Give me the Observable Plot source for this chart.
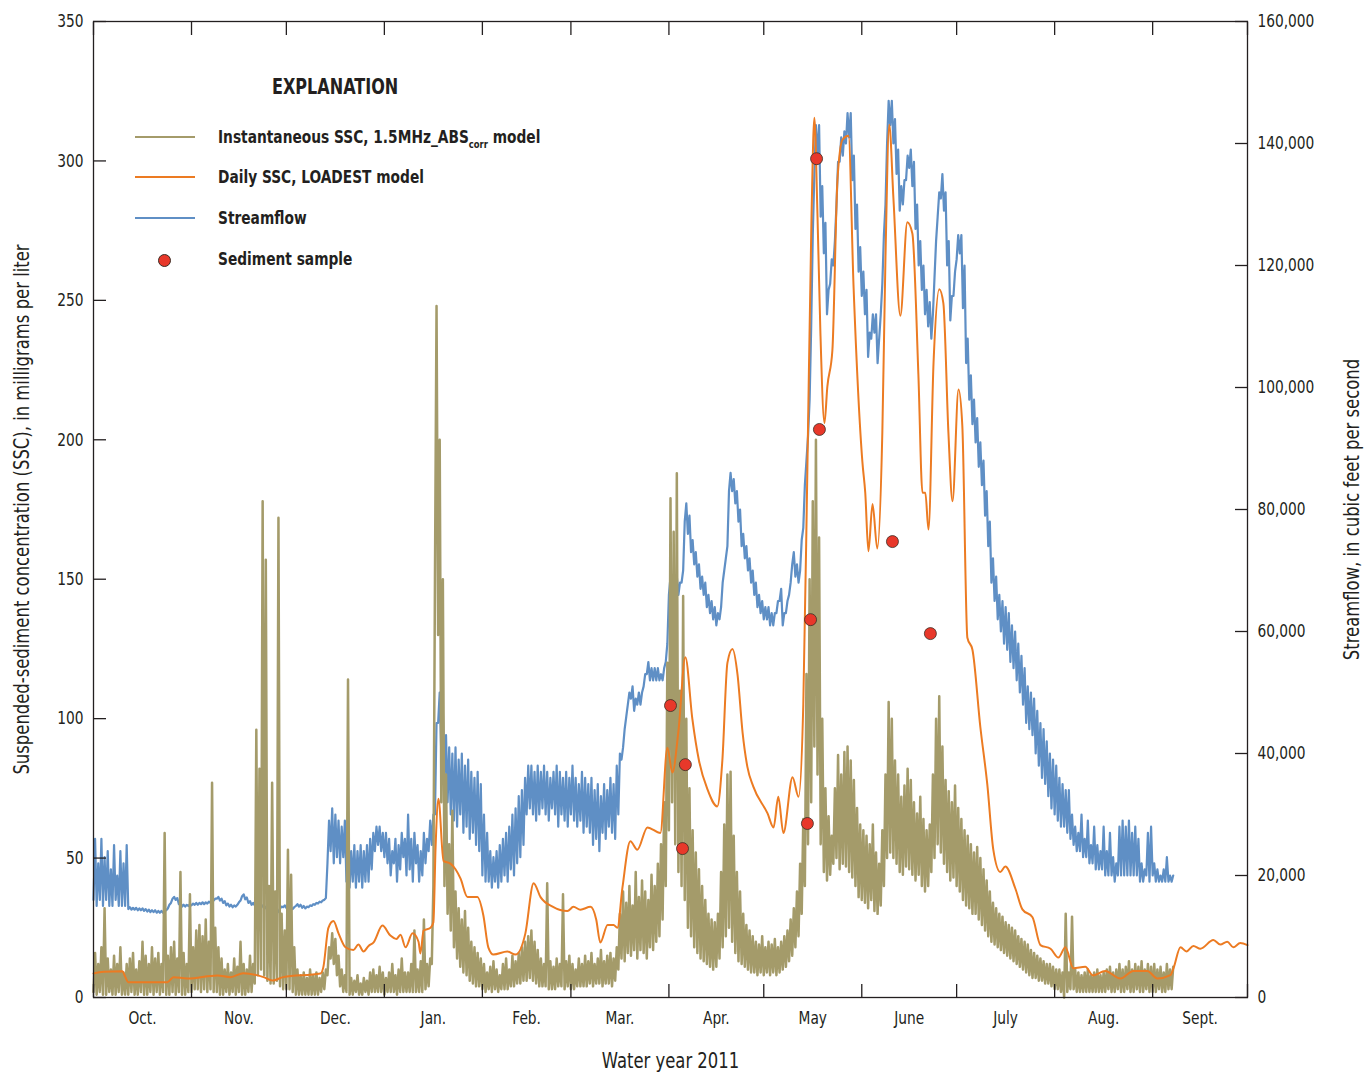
<!DOCTYPE html>
<html>
<head>
<meta charset="utf-8">
<script src="https://cdn.jsdelivr.net/npm/d3@7"></script>
<script src="https://cdn.jsdelivr.net/npm/@observablehq/plot@0.6"></script>
<style>
  body { margin: 0; background: #fff; }
  #wrap { position: relative; width: 1364px; height: 1072px; color: #231f20;
          font-family: "Liberation Sans Narrow", "Arial Narrow", "DejaVu Sans Condensed", sans-serif; }
  .lg { position: absolute; line-height: 1; transform: translateY(-50%) scaleX(0.85); transform-origin: 0 50%; white-space: nowrap; font-weight: bold; }
  .sw { position: absolute; height: 0; }
  .dotk { position: absolute; border-radius: 50%; }
  sub { font-size: 11px; vertical-align: -5px; line-height: 0; }
</style>
</head>
<body>
<div id="wrap"></div>
<script>
// ---------- DATA (water year 2011; day 0 = 1 Oct 2010) ----------
const monthLabels = ["Oct.", "Nov.", "Dec.", "Jan.", "Feb.", "Mar.", "Apr.", "May", "June", "July", "Aug.", "Sept."];
const sscTicks = [0, 50, 100, 150, 200, 250, 300, 350];
const flowTicks = [0, 20000, 40000, 60000, 80000, 100000, 120000, 140000, 160000];

// Instantaneous SSC (1.5MHz_ABScorr model), daily low / high envelope, mg/L, days 0..341
const instLow = [
  2,1,2,1,1,2,1,1,2,1,1,1,2,1,1,2,1,1,2,1,2,1,2,1,1,2,1,2,1,1,2,
  2,3,3,2,3,2,3,2,2,1,1,2,1,2,1,2,1,1,2,2,5,8,10,8,6,5,5,6,4,3,3,
  3,2,1,1,1,1,1,1,1,1,2,3,8,14,12,8,4,2,2,1,1,2,1,1,2,1,2,2,2,2,
  1,2,2,2,1,2,2,2,2,2,2,2,2,3,4,12,150,130,70,40,30,24,18,14,11,9,8,6,5,4,4,
  3,2,3,2,3,2,3,3,3,4,4,5,5,6,6,7,6,5,4,4,4,3,3,3,4,4,3,4,
  3,3,4,4,4,4,5,4,5,5,4,5,5,4,6,10,14,13,16,15,17,14,17,16,14,18,17,20,22,28,40,
  60,70,55,45,40,35,25,22,18,16,14,13,12,11,10,11,14,18,22,25,20,16,13,12,11,10,9,9,8,9,8,
  9,8,9,8,9,10,11,13,15,18,22,30,40,55,70,90,80,55,45,42,44,48,50,46,48,47,45,43,40,36,
  35,34,32,35,31,30,33,40,50,52,50,48,45,44,47,46,44,42,44,40,38,40,45,50,55,52,48,45,42,43,
  40,38,35,33,32,30,30,28,26,24,22,20,19,18,17,16,15,14,13,12,11,10,9,8,7,7,6,6,5,5,4,
  3,3,2,0,2,3,3,2,2,2,2,2,2,2,2,2,2,3,2,2,3,2,2,3,2,2,3,2,2,3,2,2,2,3,2,2,3,3
];
const instHigh = [
  16,12,18,32,14,10,15,12,18,9,12,14,16,10,13,20,15,12,18,14,16,12,59,15,18,20,14,45,16,12,37,
  18,24,26,22,28,20,77,25,18,14,10,12,9,14,11,20,12,10,15,12,96,82,178,157,40,77,38,172,30,24,53,
  44,18,10,8,9,7,10,8,9,7,9,10,18,23,21,15,10,8,114,7,6,8,5,7,6,9,10,8,11,9,
  7,9,12,8,10,14,9,9,12,24,10,13,28,12,14,40,248,200,150,80,55,67,38,32,28,31,25,20,18,16,14,
  12,9,11,13,10,8,12,14,10,15,13,16,18,20,22,24,20,17,14,12,41,13,11,14,12,37,13,15,
  12,10,14,12,15,13,16,12,14,17,13,15,16,14,18,30,38,34,40,33,45,36,42,38,35,44,40,48,55,70,120,
  179,167,188,110,144,100,75,60,52,46,40,35,30,28,27,30,45,62,80,81,58,45,38,30,26,24,22,20,19,22,18,
  20,19,21,18,20,22,24,28,32,38,48,64,116,150,178,200,165,100,75,65,58,75,87,80,88,90,85,78,68,62,
  60,58,55,62,52,48,60,80,106,100,85,80,72,76,82,78,70,66,72,64,60,62,80,100,108,90,78,74,70,76,
  68,64,60,58,55,52,54,50,46,42,38,34,32,30,29,27,26,25,24,22,21,20,19,17,16,15,14,13,12,12,11,
  10,10,9,30,9,29,10,9,8,9,10,8,9,10,8,9,10,11,9,10,12,10,11,13,10,12,11,13,10,12,11,12,10,11,9,12,10,11
];

// Streamflow, daily low / high envelope, thousand cubic feet per second, days 0..341
const flowLowK = [
  16,15,16,15,16,15,15,16,15,15,15,
  14.5,14.4,14.4,14.3,14.3,14.2,14.1,14.0,14.0,13.9,13.9,13.9,14.3,15.2,16.2,16.0,15.3,14.9,14.9,15.0,
  15.1,15.2,15.2,15.3,15.3,15.4,15.5,15.9,16.2,15.9,15.5,15.1,14.9,14.8,14.9,15.6,16.6,16.1,15.5,15.2,
  15.1,15.0,14.8,14.6,14.2,13.6,13.2,13.8,14.6,14.8,14.7,14.4,14.5,15.0,14.9,14.7,14.6,14.8,15.0,15.2,15.4,15.6,16.0,
  22,24,22,23,22,23,19,18,19,18,19,18,19,19,21,24,25,24,23,22,20,22,19,21,23,20,21,19,22,19,20,22,24,25,
  30,45,40,36,32,30,29,28,30,27,28,26,27,25,24,
  20,19,19,18,19,18,19,20,19,21,20,22,23,25,
  30,31,30,29,30,31,30,29,31,30,28,30,29,28,30,29,28,29,27,28,27,25,26,24,27,26,28,27,26,30,
  39,44,48,49,47,48,48,51,53,52,52,52,52,52,55,66,67,67,66,68,78,76,73,71,69,67,66,64,63,62,
  61,62,68,72,83,83,81,78,74,72,70,68,66,64,63,62,62,61,61,63,65,61,63,66,71,69,68,75,
  84,92,110,135,138,128,122,112,117,120,130,137,138,140,141,134,126,119,
  115,112,105,108,109,104,112,125,140,143,140,135,129,130,134,136,133,126,120,116,112,110,108,118,128,131,129,120,111,115,
  121,122,113,104,98,94,91,87,84,79,74,68,65,62,60,58,57,55,54,52,50,48,45,44,43,40,38,36,35,33,31,30,29,28,28,27,26,25,
  24,24,23,23,22,22,21,21,21,20,20,20,19,20,20,20,20,20,20,20,19,19,20,19,20,19,19,19,19,19,19
];
const flowHighK = [
  26,22,26,23,24,21,25,20,24,22,25,
  14.8,14.7,14.7,14.6,14.6,14.5,14.4,14.3,14.3,14.2,14.2,14.2,14.6,15.5,16.5,16.3,15.6,15.2,15.2,15.3,
  15.4,15.5,15.5,15.6,15.6,15.7,15.8,16.2,16.5,16.2,15.8,15.4,15.2,15.1,15.2,15.9,16.9,16.4,15.8,15.5,
  15.4,15.3,15.1,14.9,14.5,13.9,13.5,14.1,14.9,15.1,15.0,14.7,14.8,15.3,15.2,15.0,14.9,15.1,15.3,15.5,15.7,15.9,16.3,
  29,31,30,29,28,29,25,24,25,24,25,24,25,26,27,28,28,27,27,26,24,26,25,27,26,30,26,27,25,24,27,26,29,30,
  45,50,47,43,41,40,41,39,40,38,39,37,36,37,35,
  30,27,24,23,24,25,26,27,28,30,31,33,34,36,
  38,38,37,38,37,38,37,36,37,38,37,36,37,36,38,36,35,37,36,35,36,34,35,33,35,34,36,35,38,40,
  41,46,50,51,49,50,50,53,55,54,54,54,53,54,58,69,69,69,68,70,81,79,75,73,71,69,68,66,65,64,
  63,64,70,74,86,85,83,80,76,74,72,70,68,66,65,64,64,63,63,65,67,63,65,68,73,71,70,77,
  88,98,125,143,143,133,127,116,121,124,137,141,142,145,145,138,130,123,
  119,116,109,112,112,108,117,130,147,147,144,139,133,134,138,139,137,130,124,120,116,114,112,124,132,135,132,124,115,119,
  125,125,120,108,102,98,95,91,88,83,78,72,69,66,65,64,63,61,60,58,56,54,51,50,49,47,45,44,42,40,39,38,36,35,34,34,30,28,
  27,30,26,29,25,28,25,24,28,24,27,23,22,28,29,28,29,27,28,26,22,21,27,28,22,21,20,21,23,20,20
];

// Daily SSC, LOADEST model (day, mg/L)
const dailyDay = [
  0,3.2,9.2,10,11,23.4,25.3,29.7,39.2,43.3,47.4,53.8,56.6,60,71.8,72.7,74.3,75.9,77.5,79.7,
  82.2,83.8,85.4,87,88.6,91.4,93.9,95.8,97.1,98.7,100.9,102.8,103.4,104.4,106.6,107.5,108.2,109.1,110.7,112.9,
  114.5,116.1,118.3,121.4,123.3,124.9,126.5,130.9,133.5,136.6,139.2,141.4,145.2,149.9,151.8,154,157.2,159,160.3,162.6,
  164.5,165.7,167.3,169.8,172,175.2,179.3,181.5,183.1,185,187.2,189.4,191.5,194.2,197.3,198.9,200.5,202.1,203.7,205.3,
  206.8,208.7,213.2,215.1,216.6,218.2,221.1,223,224.5,225.8,227.1,228,229,229.9,231.2,232.1,233.7,235.3,236.9,238.8,
  240.4,243.2,244.1,245.1,246.4,247.9,249.5,250.5,251.7,253,255.2,257.4,259,260.9,262.2,263.1,264.1,265.7,267.5,268.8,
  270.4,271.7,273.6,274.8,276.4,278,280.5,282.7,284.6,286.8,288.4,291.6,293.8,297,299.5,302.7,305.2,307.4,309.9,313.7,
  316.2,320,324.8,328.9,333.3,336.5,340.6,341.6,343.8,345.7,347.9,350.1,354.2,356.4,358.6,360.5,362.7,365
];
const dailySSC = [
  8.6,9.2,9.4,7.5,5.5,5.5,7.3,6.8,7.9,7.3,8.7,7.3,6.1,7.3,8.6,10.9,25,27.4,23,18,
  17,19,16.5,18.5,19.8,25.8,22.2,21,22.5,18,23,20,15.8,24,25,27,54,71.3,49,48,
  46,42.6,36,36,29.5,17.9,15.4,16.5,15.4,23,41,36,32.6,31,32.5,31.5,32.5,28,19.7,26,
  26,25,39.4,56,53,61,59,89.6,80.7,95.4,122,100,85,74.6,68.5,85,120,125,115.8,95,
  82.8,75.6,66,61,72,59,79,72,105,190,280,315.5,280,239,206,219,232,293,307.6,309,
  255,192,181,160,177,161,202.6,265.7,313,286.8,244.5,278,274,223.5,181,181,167.8,227.7,254,249,
  202.6,178,218,205,129,124.7,97,76.4,53,45,47,39,31.6,28.8,18.8,17.5,14.3,18,10.5,11,
  7.9,9.5,6.8,9.5,9.5,6.8,8,10.5,18,16.5,18.5,17.5,20.6,19,20,18,19.5,18.8
];

// Sediment samples (day, mg/L)
const sampleDay = [182.5, 186.3, 187.2, 225.8, 226.8, 228.7, 229.6, 252.7, 264.7];
const sampleSSC = [104.7, 53.4, 83.5, 62.4, 135.5, 300.8, 203.7, 163.5, 130.5];

// ---------- BUILD ----------
const t0 = Date.UTC(2010, 9, 1);
const toDate = d => new Date(t0 + d * 86400000);
const k = 350 / 160000; // streamflow -> left-axis units

const instPts = instLow.flatMap((lo, i) => [{t: toDate(i), v: lo}, {t: toDate(i + 0.5), v: instHigh[i]}]);
const flowPts = flowLowK.flatMap((lo, i) => [{t: toDate(i), v: lo * 1000 * k}, {t: toDate(i + 0.5), v: flowHighK[i] * 1000 * k}]);
const dailyPts = dailyDay.map((d, i) => ({t: toDate(d), v: dailySSC[i]}));
const samplePts = sampleDay.map((d, i) => ({t: toDate(d), v: sampleSSC[i]}));

const start = new Date(Date.UTC(2010, 9, 1)), end = new Date(Date.UTC(2011, 9, 1));
const monthStarts = d3.utcMonth.range(start, d3.utcMonth.offset(end, 1));
const midMonths = monthStarts.slice(0, 12).map((m, i) => new Date((+m + +monthStarts[i + 1]) / 2));

const INK = "#231f20";
const FS = 18;

const chart = Plot.plot({
  width: 1364, height: 1072,
  marginLeft: 93, marginRight: 117, marginTop: 21, marginBottom: 75,
  style: {fontFamily: "'Liberation Sans Narrow', 'Arial Narrow', 'DejaVu Sans Condensed', sans-serif", fontSize: FS + "px", color: INK, background: "#fff"},
  x: {type: "utc", domain: [start, end]},
  y: {domain: [0, 350]},
  marks: [
    Plot.line(flowPts, {x: "t", y: "v", stroke: "#5f8fc5", strokeWidth: 2.2, strokeLinejoin: "round"}),
    Plot.line(instPts, {x: "t", y: "v", stroke: "#a49b6a", strokeWidth: 2.5, strokeLinejoin: "round"}),
    Plot.line(dailyPts, {x: "t", y: "v", stroke: "#ec7b22", strokeWidth: 2, curve: "monotone-x"}),
    Plot.dot(samplePts, {x: "t", y: "v", r: 6, fill: "#e8382a", stroke: "#3b2d25", strokeWidth: 0.8}),
    Plot.frame({stroke: INK, strokeWidth: 1.3}),
    // inward ticks
    Plot.axisY({anchor: "left", ticks: sscTicks, tickSize: -13, fill: "none", stroke: INK, strokeWidth: 1.3, label: null}),
    Plot.axisY({anchor: "right", ticks: flowTicks.map(f => f * k), tickSize: -13, fill: "none", stroke: INK, strokeWidth: 1.3, label: null}),
    Plot.axisX({anchor: "bottom", ticks: monthStarts, tickSize: -13, fill: "none", stroke: INK, strokeWidth: 1.3, label: null}),
    Plot.axisX({anchor: "top", ticks: monthStarts, tickSize: -13, fill: "none", stroke: INK, strokeWidth: 1.3, label: null}),
    // tick labels
    Plot.axisY({anchor: "left", ticks: sscTicks, tickSize: 0, tickPadding: 10, fill: INK, fontSize: FS, label: null}),
    Plot.axisY({anchor: "right", ticks: flowTicks.map(f => f * k), tickSize: 0, tickPadding: 10, fill: INK, fontSize: FS,
                tickFormat: v => d3.format(",")(Math.round(v / k / 1000) * 1000), label: null}),
    Plot.axisX({anchor: "bottom", ticks: midMonths, tickSize: 0, tickPadding: 14, fill: INK, fontSize: FS,
                tickFormat: d => monthLabels[midMonths.findIndex(m => +m === +d)], label: null}),
    // axis titles
    Plot.text(["Suspended-sediment concentration (SSC), in milligrams per liter"], {frameAnchor: "left", dx: -71, rotate: -90, textAnchor: "middle", fontSize: 21.5, fill: INK}),
    Plot.text(["Streamflow, in cubic feet per second"], {frameAnchor: "right", dx: 105, rotate: -90, textAnchor: "middle", fontSize: 21.5, fill: INK}),
    Plot.text(["Water year 2011"], {frameAnchor: "bottom", dy: 70, textAnchor: "middle", fontSize: 21.5, fill: INK})
  ]
});

// condense all chart text horizontally (reference uses a condensed face)
d3.select(chart).selectAll("text").each(function () {
  const tr = this.getAttribute("transform");
  if (tr) this.setAttribute("transform", tr + " scale(0.85,1)");
  else {
    const x = +this.getAttribute("x") || 0, y = +this.getAttribute("y") || 0;
    this.setAttribute("transform", `translate(${x},${y}) scale(0.85,1) translate(${-x},${-y})`);
  }
});

const wrap = document.getElementById("wrap");
wrap.appendChild(chart);

// ---------- LEGEND (HTML overlay) ----------
const legendItems = [
  {label: "Instantaneous SSC, 1.5MHz_ABS<sub>corr</sub> model", color: "#a49b6a", type: "line"},
  {label: "Daily SSC, LOADEST model", color: "#ec7b22", type: "line"},
  {label: "Streamflow", color: "#5f8fc5", type: "line"},
  {label: "Sediment sample", color: "#e8382a", type: "dot"}
];
const title = document.createElement("div");
title.className = "lg";
title.style.cssText = "left:272px;top:87px;font-size:21px;";
title.textContent = "EXPLANATION";
wrap.appendChild(title);
const rowY = [137, 177, 218, 259];
legendItems.forEach((it, i) => {
  const y = rowY[i];
  if (it.type === "line") {
    const s = document.createElement("div");
    s.className = "sw";
    s.style.cssText = `left:135px;width:60px;top:${y - 1}px;border-top:2px solid ${it.color};`;
    wrap.appendChild(s);
  } else {
    const d = document.createElement("div");
    d.className = "dotk";
    d.style.cssText = `left:${164 - 6.5}px;top:${y + 1 - 6.5}px;width:11.5px;height:11.5px;background:${it.color};border:0.8px solid #3b2d25;`;
    wrap.appendChild(d);
  }
  const t = document.createElement("div");
  t.className = "lg";
  t.style.cssText = `left:218px;top:${y}px;font-size:18px;`;
  t.innerHTML = it.label;
  wrap.appendChild(t);
});
</script>
</body>
</html>
